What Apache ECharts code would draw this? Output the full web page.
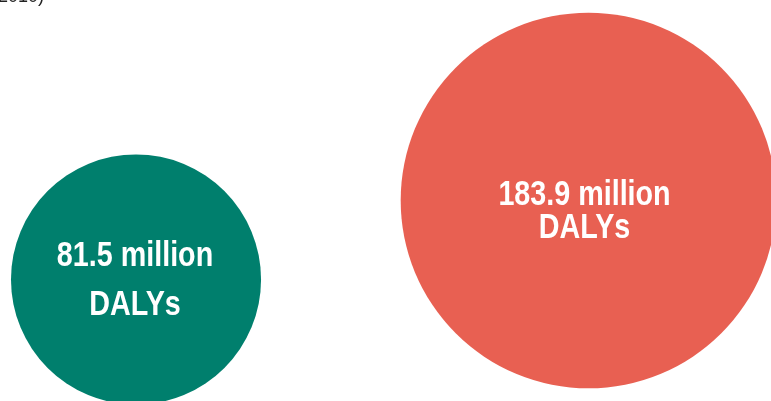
<!DOCTYPE html>
<html>
<head>
<meta charset="UTF-8">
<title>DALYs bubbles</title>
<script type="text/javascript" src="https://cdn.jsdelivr.net/npm/echarts@6/dist/echarts.min.js"></script>
<style>
html, body { margin: 0; padding: 0; background: #fff; }
#chart { width: 771px; height: 401px; }
</style>
</head>
<body>
<div id="chart"></div>
<script type="text/javascript">
// data
var positions = [0, 1];          // bubble order along x
var dalys = [81.5, 183.9];       // million DALYs
var unitText = "million";
var subText = "DALYs";
var captionTail = "2010)";

// looks
var colors = ["#007f6d", "#e86052"];
var offsetsY = [79, 0];          // vertical shift of each bubble (px)
var lineHeights = [49, 33];
var labelShift = [[-1, 1], [-4, 11]];
var sizeK = 27.7;                // diameter = k * sqrt(value)
var textFont = "bold 35px 'Liberation Sans', Arial, sans-serif";

document.addEventListener("DOMContentLoaded", function () {
	var chart = echarts.init(document.getElementById("chart"));

	var seriesData = dalys.map(function (v, i) {
		return [positions[i], 0, v];
	});

	function renderBubble(params, api) {
		var i = params.dataIndex;
		var pt = api.coord([api.value(0), api.value(1)]);
		var r = sizeK * Math.sqrt(api.value(2)) / 2;
		var cx = pt[0];
		var cy = pt[1] + offsetsY[i];
		return {
			type: "group",
			children: [{
				type: "circle",
				shape: { cx: cx, cy: cy, r: r },
				style: { fill: colors[i] }
			}, {
				type: "text",
				x: cx + labelShift[i][0],
				y: cy + labelShift[i][1],
				scaleX: 0.82,
				style: {
					text: api.value(2) + " " + unitText + "\n" + subText,
					fill: "#fff",
					font: textFont,
					align: "center",
					verticalAlign: "middle",
					lineHeight: lineHeights[i]
				}
			}]
		};
	}

	var option = {
		animation: false,
		graphic: [{
			type: "text",
			left: -2,
			top: -12,
			style: {
				text: captionTail,
				fill: "#222",
				font: "18px 'Liberation Sans', Arial, sans-serif"
			}
		}],
		grid: { left: 0, right: 0, top: 0, bottom: 0, outerBoundsMode: "none" },
		xAxis: { type: "value", min: -0.3006, max: 1.4033, show: false },
		yAxis: { type: "value", min: -1, max: 1, show: false },
		series: [{
			type: "custom",
			data: seriesData,
			renderItem: renderBubble,
			silent: true
		}]
	};

	chart.setOption(option, true);
});
</script>
</body>
</html>
